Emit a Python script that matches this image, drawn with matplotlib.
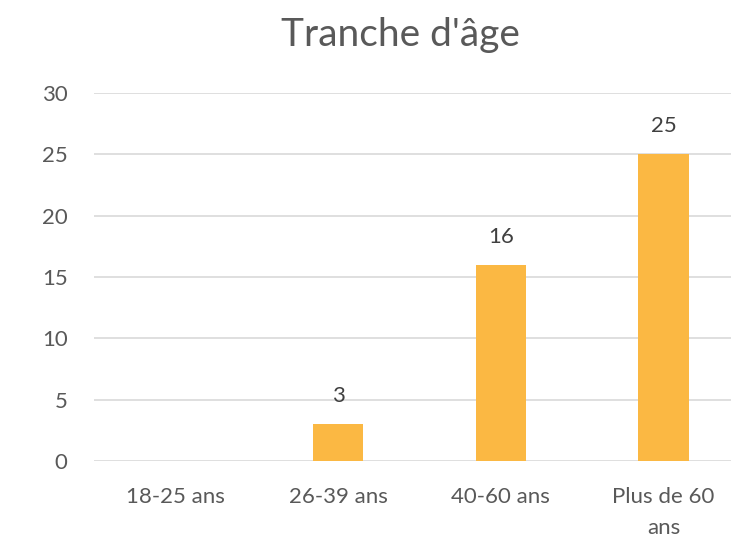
import matplotlib.pyplot as plt

categories = ['18-25 ans', '26-39 ans', '40-60 ans', 'Plus de 60\nans']
counts = [0, 3, 16, 25]
yticks = [0, 5, 10, 15, 20, 25, 30]

plt.rcParams['font.family'] = ['Lato', 'DejaVu Sans']

fig = plt.figure(figsize=(7.31, 5.4), dpi=100)
ax = fig.add_axes([0.1286, 0.1463, 0.8906, 0.6815])

x = range(len(categories))
bars = ax.bar(x, counts, width=0.31, color='#FBB843', zorder=3)
for b, v in zip(bars, counts):
    if v:
        ax.annotate(str(v), (b.get_x() + b.get_width() / 2, v), xytext=(0, 13),
                    textcoords='offset points', ha='center', va='bottom',
                    fontsize=16, color='#404040')

ax.set_xlim(-0.5, len(categories) - 0.5)
ax.set_ylim(0, 30)
ax.set_yticks(yticks)
ax.set_xticks(list(x))
ax.set_xticklabels(categories, linespacing=1.65)
ax.grid(axis='y', color='#D9D9D9', linewidth=1.2, zorder=0)
for s in ax.spines.values():
    s.set_visible(False)
ax.tick_params(axis='both', length=0, labelsize=16, labelcolor='#595959')
ax.tick_params(axis='y', pad=19)
ax.tick_params(axis='x', pad=19)

fig.text(0.548, 0.935, "Tranche d'âge", ha='center', va='center',
         fontsize=28, color='#595959')

fig.savefig('out.png', dpi=100)
